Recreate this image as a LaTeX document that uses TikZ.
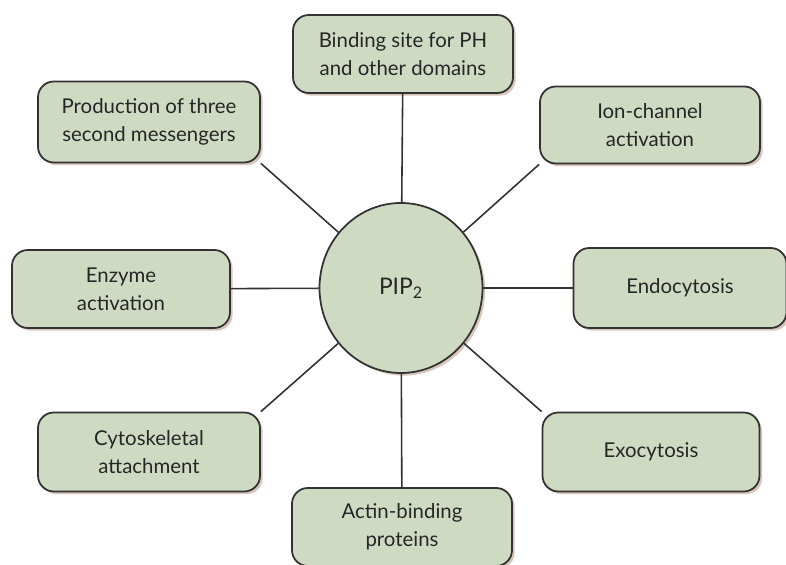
\documentclass[tikz,border=0pt]{standalone}
\usepackage{fontspec}
\setmainfont{Lato}
\usepackage{tikz}
\usetikzlibrary{shapes,shadows,positioning}

\definecolor{sage}{RGB}{207,218,195}
\definecolor{edge}{RGB}{50,50,50}
\definecolor{shade}{RGB}{190,160,140}

\begin{document}
\begin{tikzpicture}[
    role/.style={draw=edge, fill=sage, line width=1pt, rounded corners=9pt, align=center,
        minimum width=4.4cm, minimum height=1.56cm, text=black!85,
        font=\fontsize{11.6}{16}\selectfont,
        drop shadow={shadow xshift=1.5pt, shadow yshift=-1.5pt, fill=shade, opacity=0.6}},
    hub/.style={ellipse, draw=edge, fill=sage, line width=1pt, minimum width=3.26cm, minimum height=3.4cm,
        text=black!85, font=\fontsize{13}{16}\selectfont,
        drop shadow={shadow xshift=1.5pt, shadow yshift=-1.5pt, fill=shade, opacity=0.6}},
    link/.style={draw=edge, line width=0.9pt}
]
    \useasboundingbox (0,0) rectangle (15.72,-11.3);

    \node (pip) [hub] at (8.02,-5.76) {PIP\textsubscript{2}};

    \node (bind) [role] at (8.06,-1.08) {Binding site for PH\\and other domains};
    \node (prod) [role, minimum width=4.44cm, minimum height=1.62cm] at (2.98,-2.44) {Production of three\\second messengers};
    \node (ion) [role, minimum height=1.54cm] at (13.0,-2.5) {Ion-channel\\activation};
    \node (enz) [role, minimum width=4.36cm] at (2.42,-5.78) {Enzyme\\activation};
    \node (endo) [role, minimum width=4.26cm, minimum height=1.6cm] at (13.6,-5.76) {Endocytosis};
    \node (cyto) [role, minimum width=4.44cm, minimum height=1.58cm] at (2.98,-9.04) {Cytoskeletal\\attachment};
    \node (exo) [role, minimum width=4.34cm, minimum height=1.58cm] at (13.02,-9.04) {Exocytosis};
    \node (actin) [role] at (8.04,-10.54) {Actin-binding\\proteins};

    \draw [link] (bind) -- (pip);
    \draw [link] (prod.south east) -- (pip);
    \draw [link] (ion.south west) -- (pip);
    \draw [link] (enz) -- (pip);
    \draw [link] (endo) -- (pip);
    \draw [link] (cyto.north east) -- (pip);
    \draw [link] (exo.north west) -- (pip);
    \draw [link] (actin) -- (pip);
\end{tikzpicture}
\end{document}
